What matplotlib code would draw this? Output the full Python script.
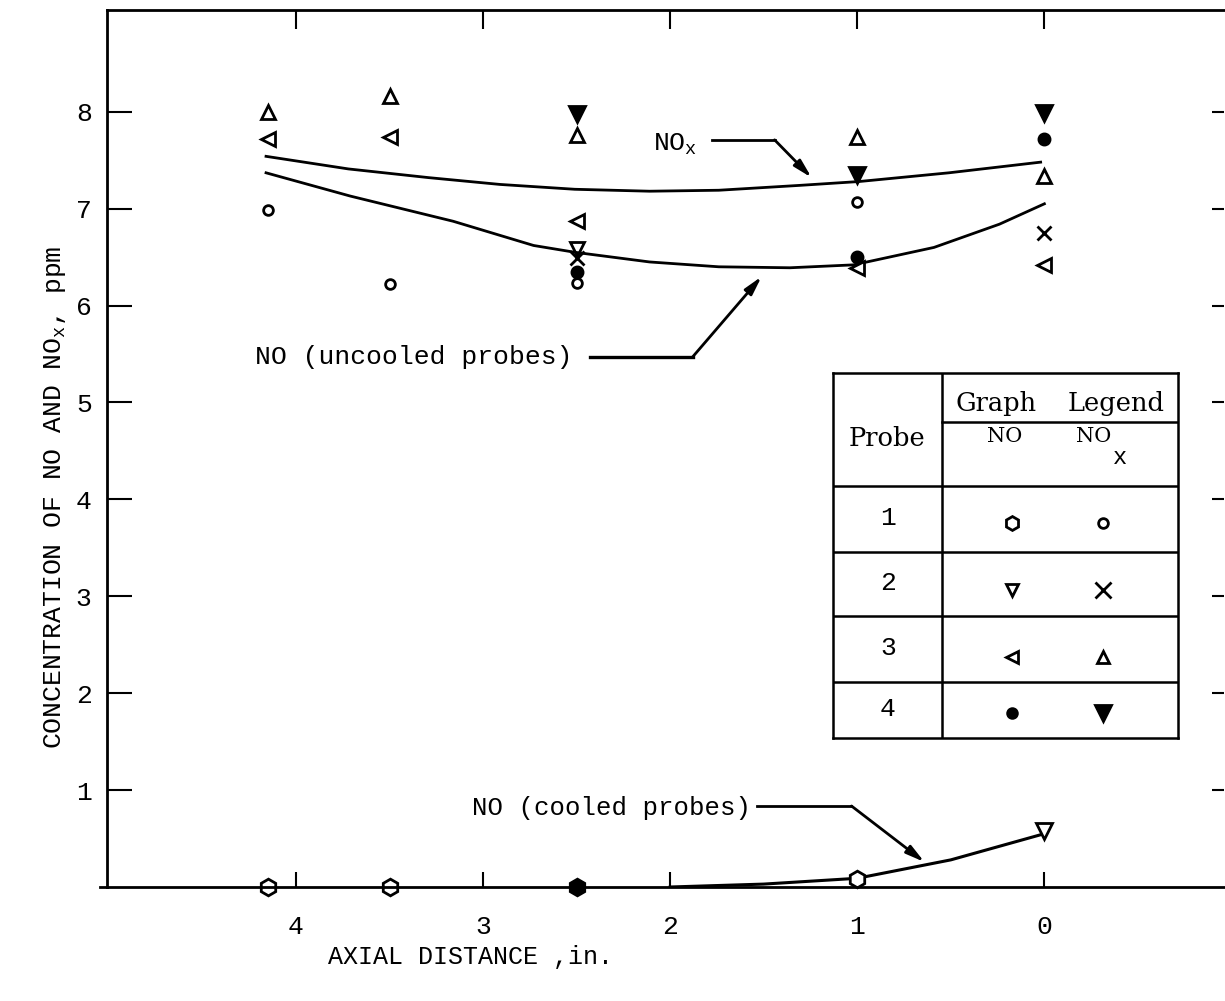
import matplotlib
matplotlib.use("Agg")
import matplotlib.pyplot as plt

plt.rcParams['font.family'] = ['Liberation Mono', 'DejaVu Sans Mono']
plt.rcParams['mathtext.fontset'] = 'custom'
plt.rcParams['mathtext.rm'] = 'Liberation Mono'
plt.rcParams['mathtext.it'] = 'Liberation Mono'
plt.rcParams['mathtext.default'] = 'regular'

# NO_x readings (ppm) by probe, x = axial distance (in.)
nox_p1_x = [4.15, 3.5, 2.5, 1.0]
nox_p1_y = [6.99, 6.22, 6.23, 7.07]
nox_p2_x = [2.5, 0.0]
nox_p2_y = [6.49, 6.75]
nox_p3_x = [4.15, 3.5, 2.5, 1.0, 0.0]
nox_p3_y = [8.00, 8.16, 7.76, 7.74, 7.34]
nox_p4_x = [2.5, 1.0, 0.0]
nox_p4_y = [7.98, 7.35, 7.99]

# NO readings, uncooled probes (ppm)
no_p2_unc_x = [2.5]
no_p2_unc_y = [6.58]
no_p3_x = [4.15, 3.5, 2.5, 1.0, 0.0]
no_p3_y = [7.72, 7.74, 6.87, 6.39, 6.42]
no_p4_x = [2.5, 1.0, 0.0]
no_p4_y = [6.35, 6.50, 7.72]

# NO readings, cooled probes (ppm)
no_p1_x = [4.15, 3.5, 2.5, 1.0]
no_p1_y = [0.0, 0.0, 0.0, 0.08]
no_p2_x = [0.0]
no_p2_y = [0.58]
no_p4_cool_x = [2.5]
no_p4_cool_y = [0.0]

# faired curves
nox_curve_x = [4.16, 3.72, 3.29, 2.91, 2.51, 2.11, 1.74, 1.31, 0.99, 0.51, 0.02]
nox_curve_y = [7.54, 7.41, 7.32, 7.25, 7.20, 7.18, 7.19, 7.24, 7.28, 7.37, 7.48]
no_unc_curve_x = [4.16, 3.71, 3.16, 2.73, 2.51, 2.11, 1.74, 1.36, 1.02, 0.59, 0.24, 0.0]
no_unc_curve_y = [7.37, 7.13, 6.87, 6.62, 6.55, 6.45, 6.40, 6.39, 6.42, 6.60, 6.84, 7.05]
no_cool_curve_x = [2.0, 1.5, 1.0, 0.5, 0.0]
no_cool_curve_y = [0.0, 0.03, 0.09, 0.28, 0.55]

x_ticks = [4, 3, 2, 1, 0]
x_tick_labels = ['4', '3', '2', '1', '0']
y_ticks = [1, 2, 3, 4, 5, 6, 7, 8]
y_tick_labels = ['1', '2', '3', '4', '5', '6', '7', '8']

fig = plt.figure(figsize=(12.25, 10.01), dpi=100)
ax = fig.add_axes([107 / 1225, 114 / 1001, 1117 / 1225, 877 / 1001])
ax.set_xlim(5.01, -0.96)
ax.set_ylim(0, 9.05)

for side in ['left', 'bottom', 'top']:
    ax.spines[side].set_linewidth(2)
ax.spines['right'].set_visible(False)
# bottom line runs a little past the left axis, as in the original
ax.plot([5.05, 5.01], [0, 0], color='k', lw=2, clip_on=False)

ax.set_xticks(x_ticks)
ax.set_xticklabels(x_tick_labels, fontsize=19)
ax.set_yticks(y_ticks)
ax.set_yticklabels(y_tick_labels, fontsize=19)
ax.tick_params(axis='x', direction='in', length=11, width=1.5, pad=20)
ax.tick_params(axis='y', direction='in', length=18, width=1.5, pad=11)

top = ax.secondary_xaxis('top')
top.set_xticks(x_ticks)
top.set_xticklabels([])
top.tick_params(direction='in', length=14, width=1.5)
top.spines['top'].set_visible(False)
right = ax.secondary_yaxis('right')
right.set_yticks(y_ticks)
right.set_yticklabels([])
right.tick_params(direction='in', length=9, width=1.5)
right.spines['right'].set_visible(False)

# curves
ax.plot(nox_curve_x, nox_curve_y, color='k', lw=2)
ax.plot(no_unc_curve_x, no_unc_curve_y, color='k', lw=2)
ax.plot(no_cool_curve_x, no_cool_curve_y, color='k', lw=2.2)

# symbols
mk = dict(linestyle='none', color='k', mew=2, clip_on=False)
ax.plot(nox_p1_x, nox_p1_y, marker='o', ms=7, mfc='white', **mk)
ax.plot(nox_p2_x, nox_p2_y, marker='x', ms=10, **mk)
ax.plot(nox_p3_x, nox_p3_y, marker='^', ms=10, mfc='white', **mk)
ax.plot(nox_p4_x, nox_p4_y, marker='v', ms=11, mfc='k', **mk)
ax.plot(no_p2_unc_x, no_p2_unc_y, marker='v', ms=10, mfc='none', **mk)
ax.plot(no_p3_x, no_p3_y, marker='<', ms=10, mfc='white', **mk)
ax.plot(no_p4_x, no_p4_y, marker='o', ms=8, mfc='k', **mk)
ax.plot(no_p1_x, no_p1_y, marker='h', ms=12, mfc='white', **mk)
ax.plot(no_p4_cool_x, no_p4_cool_y, marker='o', ms=9, mfc='k', **mk)
ax.plot(no_p2_x, no_p2_y, marker='v', ms=11, mfc='white', **mk)

# labels with leader arrows
arrow = dict(arrowstyle='-|>,head_length=1.1,head_width=0.28', color='k', lw=2, shrinkA=0, shrinkB=0)

ax.text(2.09, 7.66, 'NO$_x$', fontsize=19, ha='left', va='center')
ax.plot([1.778, 1.442], [7.71, 7.71], color='k', lw=2)
ax.annotate('', xy=(1.244, 7.32), xytext=(1.442, 7.71), arrowprops=arrow)

ax.text(4.22, 5.47, 'NO (uncooled probes)', fontsize=19, ha='left', va='center')
ax.plot([2.43, 1.88], [5.47, 5.47], color='k', lw=2.4)
ax.annotate('', xy=(1.511, 6.30), xytext=(1.88, 5.47), arrowprops=arrow)

ax.text(3.06, 0.82, 'NO (cooled probes)', fontsize=18.5, ha='left', va='center')
ax.plot([1.538, 1.031], [0.836, 0.836], color='k', lw=2)
ax.annotate('', xy=(0.641, 0.258), xytext=(1.031, 0.836), arrowprops=arrow)

fig.text(328 / 1225, 1 - 957 / 1001, 'AXIAL DISTANCE ,in.', fontsize=18, ha='left', va='center')
fig.text(55 / 1225, 1 - 497 / 1001, 'CONCENTRATION OF NO AND NO$_x$, ppm', fontsize=19,
         rotation=90, ha='center', va='center')

# probe legend table
tb = fig.add_axes([833 / 1225, 1 - 738 / 1001, 345 / 1225, 365 / 1001])
tb.set_xlim(0, 345)
tb.set_ylim(365, 0)
tb.set_xticks([])
tb.set_yticks([])
for s in tb.spines.values():
    s.set_linewidth(1.8)
tb.patch.set_facecolor('white')
tb.axvline(109, color='k', lw=1.8)
tb.plot([109, 345], [49, 49], color='k', lw=1.8)
for yl in [113, 179, 243, 309]:
    tb.axhline(yl, color='k', lw=1.8)

serif = ['DejaVu Serif']
tb.text(54, 65, 'Probe', fontsize=18.5, family=serif, ha='center', va='center')
tb.text(163, 30, 'Graph', fontsize=18.5, family=serif, ha='center', va='center')
tb.text(283, 30, 'Legend', fontsize=18.5, family=serif, ha='center', va='center')
tb.text(172, 64, 'NO', fontsize=15, family=serif, ha='center', va='center')
tb.text(261, 64, 'NO', fontsize=15, family=serif, ha='center', va='center')
tb.text(287, 84, 'x', fontsize=17, ha='center', va='center')

probes = ['1', '2', '3', '4']
label_y = [145, 210, 275, 336]
mark_y = [150, 217, 284, 340]
no_marks = [('h', 'white', 10), ('v', 'white', 9), ('<', 'white', 8), ('o', 'k', 7)]
nox_marks = [('o', 'white', 7), ('x', 'k', 11), ('^', 'white', 9), ('v', 'k', 11)]
for p, ly, my, m1, m2 in zip(probes, label_y, mark_y, no_marks, nox_marks):
    tb.text(55, ly, p, fontsize=19, ha='center', va='center')
    tb.plot([179], [my], marker=m1[0], mfc=m1[1], ms=m1[2], color='k', mew=2)
    tb.plot([270], [my], marker=m2[0], mfc=m2[1], ms=m2[2], color='k', mew=2)

fig.savefig('out.png', dpi=100, facecolor='white')
